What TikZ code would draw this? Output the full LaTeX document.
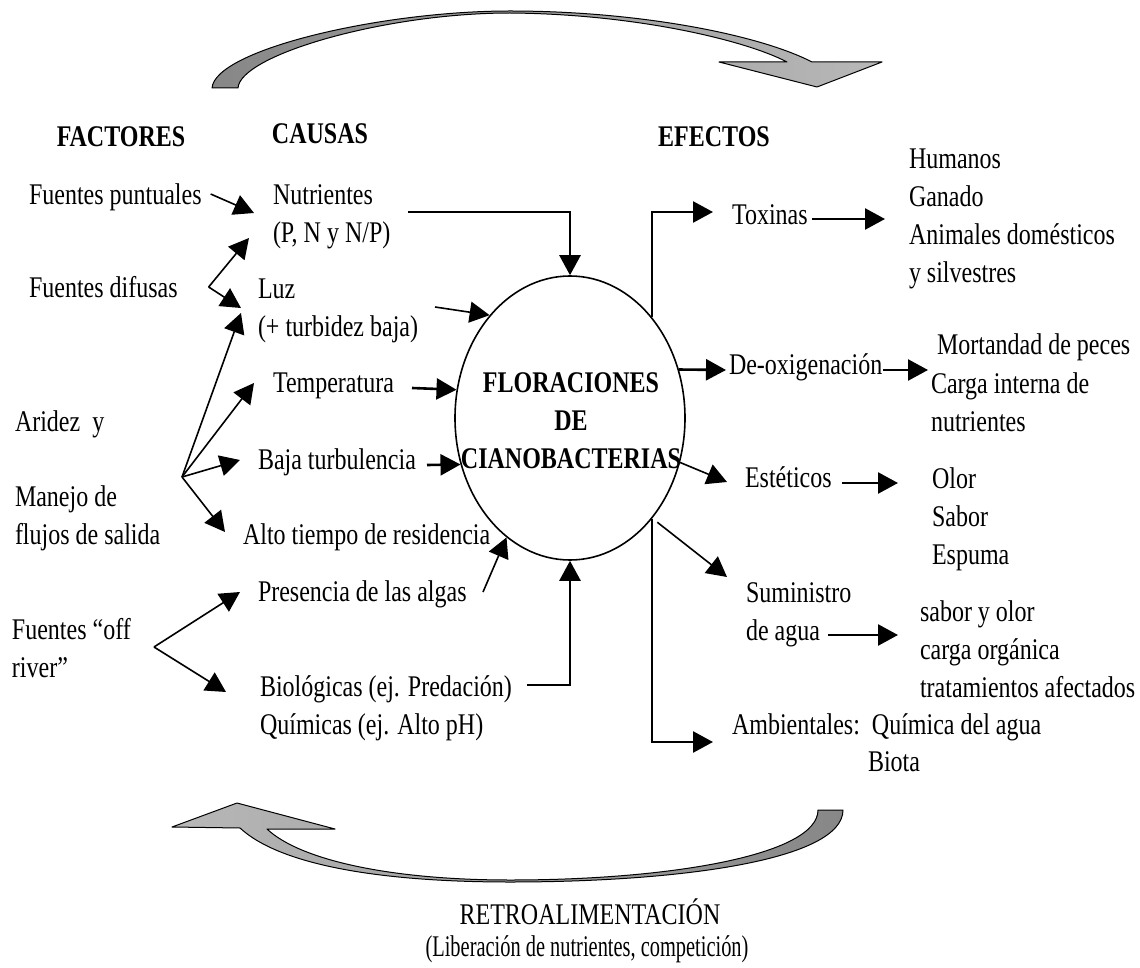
\documentclass[tikz,border=0pt]{standalone}
\usepackage{fontspec}
\usepackage{graphicx}
\setmainfont{Liberation Serif}[FakeStretch=0.8]
\usetikzlibrary{arrows.meta,calc,shapes.geometric}
\definecolor{darkg}{RGB}{135,135,135}
\definecolor{lightg}{RGB}{184,184,184}
\begin{document}
\begin{tikzpicture}[x=1pt,y=-1pt,
  txt/.style={font=\fontsize{30}{38}\selectfont, inner sep=0pt, outer sep=0pt, align=left, anchor=west},
  hdr/.style={font=\fontsize{30}{38}\selectfont\bfseries, inner sep=0pt, outer sep=0pt, anchor=center},
  tarr/.style={line width=1.6pt, -{Triangle[length=20pt,width=21pt]}},
  karr/.style={line width=2.6pt, -{Triangle[length=20pt,width=21pt]}},
  bigarrow/.style={draw=black, line width=1pt, line join=round}]
\useasboundingbox (0,0) rectangle (1140,968);

% curved gray arrows
\path[bigarrow, left color=darkg, right color=lightg]
  (212,88) .. controls (215,50) and (380,11) .. (510,11)
  .. controls (640,11) and (760,35) .. (812,62)
  -- (882,62) -- (817,87) -- (719,62) -- (787,62)
  .. controls (745,40) and (635,14) .. (510,13)
  .. controls (385,13) and (240,55) .. (238,88) -- cycle;
\path[bigarrow, left color=lightg, right color=darkg]
  (843,810) .. controls (843,860) and (680,882) .. (510,882)
  .. controls (380,882) and (280,865) .. (240,828)
  -- (172,827) -- (237,803) -- (335,829) -- (267,829)
  .. controls (300,860) and (390,880) .. (510,880)
  .. controls (670,880) and (818,855) .. (818,810) -- cycle;

% headers
\node[hdr] (fac) at (121,139) {\strut FACTORES};
\node[hdr] (cau) at (320,136) {\strut CAUSAS};
\node[hdr] (efe) at (714,139) {\strut EFECTOS};

% factores
\node[txt] (fp) at (29,197) {\strut Fuentes puntuales};
\node[txt] (fd) at (29,290) {\strut Fuentes difusas};
\node[txt] (ar) at (15,424) {\strut Aridez\ \ y};
\node[txt] (mj) at (15,518) {\strut Manejo de\\\strut flujos de salida};
\node[txt] (off) at (12,651) {\strut Fuentes “off\\\strut river”};

% causas
\node[txt] (nut) at (273,216) {\strut Nutrientes\\\strut (P, N y N/P)};
\node[txt] (luz) at (258,310) {\strut Luz\\\strut (+ turbidez baja)};
\node[txt] (tem) at (273,385) {\strut Temperatura};
\node[txt] (baj) at (258,462) {\strut Baja turbulencia};
\node[txt] (alt) at (243,537) {\strut Alto tiempo de residencia};
\node[txt] (pre) at (258,594) {\strut Presencia de las algas};
\node[txt] (bio) at (260,708) {\strut Biológicas (ej. Predación)\\\strut Químicas (ej. Alto pH)};

% centre
\node[draw, ellipse, line width=1.6pt, minimum width=230pt, minimum height=284pt, inner sep=0pt] (ell) at (570,418) {};
\node[font=\fontsize{30}{38}\selectfont\bfseries, align=center, inner sep=0pt] (flt) at (571,423)
  {\strut FLORACIONES\\\strut DE\\\strut CIANOBACTERIAS};

% efectos
\node[txt] (tox) at (732,217) {\strut Toxinas};
\node[txt] (hum) at (909,218) {\strut Humanos\\\strut Ganado\\\strut Animales domésticos\\\strut y silvestres};
\node[txt] (deo) at (729,367) {\strut De-oxigenación};
\node[txt] (mor) at (937,347) {\strut Mortandad de peces};
\node[txt] (car) at (931,405) {\strut Carga interna de\\\strut nutrientes};
\node[txt] (est) at (745,480) {\strut Estéticos};
\node[txt] (olo) at (932,519) {\strut Olor\\\strut Sabor\\\strut Espuma};
\node[txt] (sum) at (746,614) {\strut Suministro\\\strut de agua};
\node[txt] (sab) at (920,652) {\strut sabor y olor\\\strut carga orgánica\\\strut tratamientos afectados};
\node[txt] (amb) at (732,727) {\strut Ambientales:\ \ Química del agua};
\node[txt] (bta) at (868,764) {\strut Biota};

% retroalimentacion
\node[txt, anchor=center] (ret) at (590,917) {\strut RETROALIMENTACIÓN};
\node[txt, anchor=center] (lib) at (587,949) {\scalebox{0.85}[1]{\strut (Liberación de nutrientes, competición)}};

% junctions
\coordinate (jfd) at ($(fd.east)+(31,-3)$);
\coordinate (jam) at (182,477);
\coordinate (joff) at (154,647);

% factores -> causas
\draw[tarr] ($(fp.east)+(9,-3)$) -- ($(nut.west)+(-19,-3)$);
\draw[tarr] (jfd) -- ($(nut.west)+(-24,22)$);
\draw[tarr] (jfd) -- ($(luz.west)+(-17,-2)$);
\draw[tarr] (jam) -- ($(luz.west)+(-17,3)$);
\draw[tarr] (jam) -- ($(tem.west)+(-19,-2)$);
\draw[tarr] (jam) -- ($(baj.west)+(-18,-2)$);
\draw[tarr] (jam) -- ($(alt.west)+(-18,-5)$);
\draw[tarr] (joff) -- ($(pre.west)+(-18,-2)$);
\draw[tarr] (joff) -- ($(bio.west)+(-34,-16)$);

% causas -> floraciones
\draw[karr] ($(nut.west)+(135,-4)$) -| (ell.north);
\draw[tarr] ($(luz.west)+(177,-3)$) -- (ell.128);
\draw[karr] ($(tem.west)+(139,3)$) -- (ell.166);
\draw[karr] ($(baj.west)+(169,3)$) -- (ell.203);
\draw[tarr] ($(pre.west)+(225,-2)$) -- (ell.242);
\draw[karr] ($(bio.west)+(267,-23)$) -| (ell.south);

% floraciones -> efectos
\draw[karr] (ell.51) |- ($(tox.west)+(-19,-5)$);
\draw[karr] ($(tox.east)+(4,2)$) -- ($(hum.west)+(-24,1)$);
\draw[karr] (ell.24) -- ($(deo.west)+(-3,3)$);
\draw[karr] ($(deo.east)+(1,3)$) -- ($(car.west)+(-3,-35)$);
\draw[tarr] (ell.338) -- ($(est.west)+(-18,2)$);
\draw[karr] ($(est.east)+(10,3)$) -- ($(olo.west)+(-34,-36)$);
\draw[tarr] ($(ell.310)+(4,5)$) -- ($(sum.west)+(-19,-37)$);
\draw[karr] ($(sum.west)+(82,21)$) -- ($(sab.west)+(-22,-17)$);
\draw[karr] (ell.309) |- ($(amb.west)+(-19,15)$);
\end{tikzpicture}
\end{document}
